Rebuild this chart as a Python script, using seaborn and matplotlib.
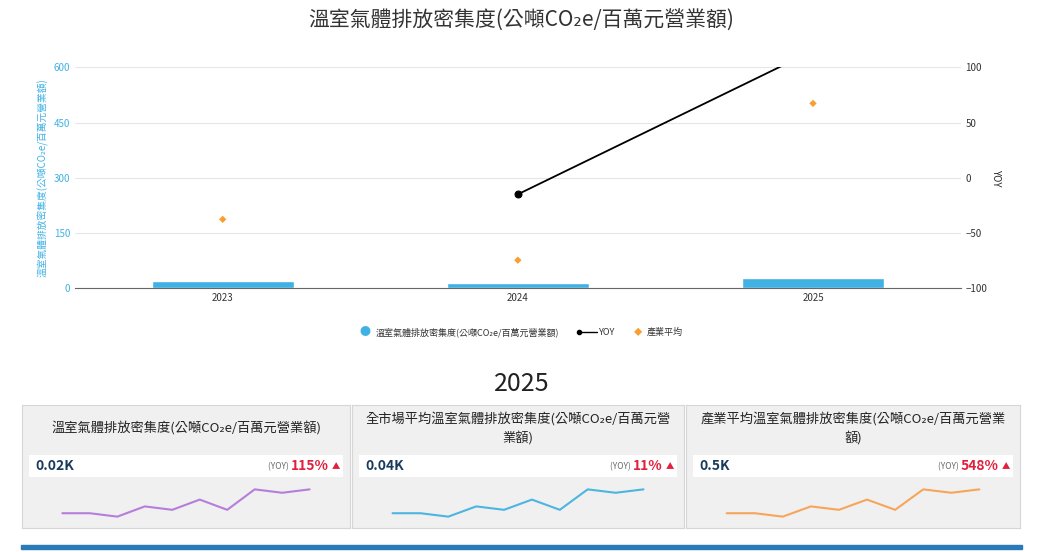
import matplotlib
matplotlib.use("Agg")
import matplotlib.pyplot as plt
import seaborn as sns
import pandas as pd

years = ["2023", "2024", "2025"]
intensity = [19, 14, 28]
industry_avg = [187, 76, 502]
yoy_years = ["2024", "2025"]
yoy = [-15, 115]

metric = "溫室氣體排放密集度(公噸CO₂e/百萬元營業額)"
card_titles = [metric, "全市場平均溫室氣體排放密集度(公噸CO₂e/百萬元營\n業額)",
               "產業平均溫室氣體排放密集度(公噸CO₂e/百萬元營業\n額)"]
card_values = ["0.02K", "0.04K", "0.5K"]
card_yoy = ["115%", "11%", "548%"]
card_colors = ["#b57edc", "#4cb5e0", "#f6a55a"]
spark = [2, 2, 1, 4, 3, 6, 3, 9, 8, 9]

sns.set_style("white")
plt.rcParams["font.family"] = ["Noto Sans CJK TC", "DejaVu Sans"]

fig = plt.figure(figsize=(10.43, 5.52), dpi=100)
fig.patch.set_facecolor("white")
fig.text(0.5, 0.965, metric, ha="center", va="center", fontsize=15, color="#333333")

ax = fig.add_axes([0.072, 0.478, 0.849, 0.400])
df = pd.DataFrame({"year": years, "v": intensity})
sns.barplot(data=df, x="year", y="v", ax=ax, color="#3fb1e3", width=0.48, saturation=1)
sns.scatterplot(x=[0, 1, 2], y=industry_avg, ax=ax, marker="D", s=14, color="#f7a030",
                edgecolor="none", zorder=5)
ax.set_xlim(-0.5, 2.5)
ax.set_ylim(0, 600)
ax.set_yticks([0, 150, 300, 450, 600])
ax.tick_params(axis="y", colors="#3fb1e3", labelsize=7, length=0)
ax.tick_params(axis="x", colors="#333333", labelsize=7, length=0)
ax.set_xlabel("")
ax.set_ylabel(metric, color="#3fb1e3", fontsize=7)
ax.grid(axis="y", color="#e6e6e6", lw=0.8)
for s in ["top", "right", "left"]:
    ax.spines[s].set_visible(False)
ax.spines["bottom"].set_color("#666666")

ax2 = ax.twinx()
sns.lineplot(x=[1, 2], y=yoy, ax=ax2, color="black", marker="o", markersize=5,
             markeredgecolor="black", lw=1.3)
ax2.set_ylim(-100, 100)
ax2.set_yticks([-100, -50, 0, 50, 100])
ax2.tick_params(axis="y", labelsize=7, colors="#333333", length=0)
ax2.set_ylabel("YOY", fontsize=7, rotation=270, labelpad=10)
for s in ax2.spines.values():
    s.set_visible(False)

# legend
fig.text(0.35, 0.398, "●", color="#3fb1e3", fontsize=8, ha="center", va="center")
fig.text(0.36, 0.398, metric, fontsize=6.5, va="center", color="#333333")
fig.lines.append(plt.Line2D([0.555, 0.572], [0.398, 0.398], color="black", lw=1,
                            marker="o", markersize=3, markevery=[0], transform=fig.transFigure))
fig.text(0.574, 0.398, "YOY", fontsize=6.5, va="center", color="#333333")
fig.text(0.612, 0.398, "◆", color="#f7a030", fontsize=6, ha="center", va="center")
fig.text(0.62, 0.398, "產業平均", fontsize=6.5, va="center", color="#333333")

fig.text(0.5, 0.305, "2025", ha="center", va="center", fontsize=18, color="#222222")

cards_x = [(22, 350), (352, 684), (686, 1020)]
W = 1043.0
H = 552.0
for i, (x0, x1) in enumerate(cards_x):
    cax = fig.add_axes([x0 / W, 1 - 528 / H, (x1 - x0) / W, 123 / H])
    cax.set_facecolor("#f0f0f0")
    cax.set_xlim(0, 1)
    cax.set_ylim(0, 1)
    cax.set_xticks([])
    cax.set_yticks([])
    for s in cax.spines.values():
        s.set_color("#d6d6d6")
    cax.text(0.5, 0.81, card_titles[i], ha="center", va="center", fontsize=9.5,
             color="#222222", linespacing=1.5)
    cax.add_patch(plt.Rectangle((0.02, 0.415), 0.96, 0.175, color="white", lw=0))
    cax.text(0.04, 0.5, card_values[i], va="center", fontsize=10, fontweight="bold",
             color="#1a3a5c")
    cax.text(0.97, 0.5, "▲", ha="right", va="center", fontsize=6, color="#e0203c")
    t = cax.text(0.935, 0.5, card_yoy[i], ha="right", va="center", fontsize=10,
                 color="#e0203c", fontweight="bold")
    cax.annotate("(YOY) ", xy=(0, 0.5), xycoords=t, ha="right", va="center",
                 fontsize=6, color="#666666")
    sax = fig.add_axes([(x0 + 28) / W, 1 - 518 / H, (x1 - x0 - 56) / W, 30 / H])
    sns.lineplot(x=range(len(spark)), y=spark, ax=sax, color=card_colors[i], lw=1.5)
    sax.axis("off")

fig.patches.append(plt.Rectangle((0.02, 0.005), 0.96, 0.008, color="#2a7ab8",
                                 transform=fig.transFigure))
fig.savefig("out.png", dpi=100)
